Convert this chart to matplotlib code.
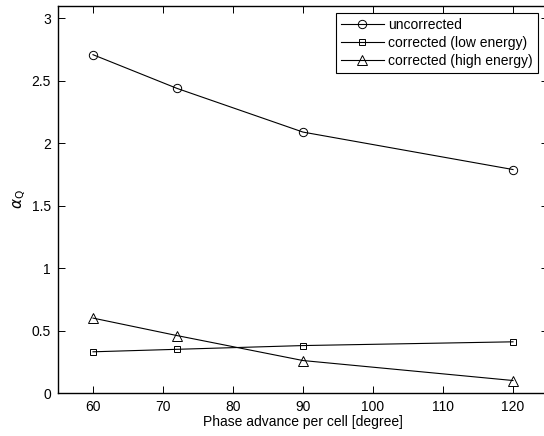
import matplotlib
matplotlib.use("Agg")
import matplotlib.pyplot as plt

phase = [60, 72, 90, 120]
uncorrected = [2.71, 2.44, 2.09, 1.79]
low_energy = [0.33, 0.35, 0.38, 0.41]
high_energy = [0.60, 0.46, 0.26, 0.10]
labels = ["uncorrected", "corrected (low energy)", "corrected (high energy)"]
xticks = [60, 70, 80, 90, 100, 110, 120]
yticks = [0, 0.5, 1, 1.5, 2, 2.5, 3]

plt.rcParams['font.family'] = ['Liberation Sans', 'DejaVu Sans']
plt.rcParams['font.size'] = 10

fig = plt.figure(figsize=(5.44, 4.36), dpi=100)
left, right = 58/544, 548/544
bottom, top = (436-393)/436, (436-6)/436
ax = fig.add_axes([left, bottom, right-left, top-bottom])

kw = dict(color='black', lw=0.8, mfc='none', mec='black', mew=0.7)
ax.plot(phase, uncorrected, marker='o', ms=6, label=labels[0], **kw)
ax.plot(phase, low_energy, marker='s', ms=5, label=labels[1], **kw)
ax.plot(phase, high_energy, marker='^', ms=6.5, label=labels[2], **kw)

ax.set_xlim(55, 125)
ax.set_ylim(0, 3.1)
ax.set_xticks(xticks)
ax.set_xticklabels([str(t) for t in xticks])
ax.set_yticks(yticks)
ax.set_yticklabels(['0', '0.5', '1', '1.5', '2', '2.5', '3'])
ax.tick_params(direction='in', top=True, right=True, length=5, width=0.7, labelsize=10, pad=5)
for s in ax.spines.values():
    s.set_linewidth(1.0)

ax.set_xlabel('Phase advance per cell [degree]', fontsize=10, labelpad=1)
ax.set_ylabel(r'$\alpha_{\mathrm{Q}}$', fontsize=11, labelpad=3)

leg = ax.legend(loc='upper left', bbox_to_anchor=((336-58)/490, (393-13)/387), frameon=True,
                fancybox=False, edgecolor='black', framealpha=1, fontsize=10,
                handlelength=3.1, handletextpad=0.3, borderpad=0.35, labelspacing=0.3,
                borderaxespad=0)
leg.get_frame().set_linewidth(0.8)

fig.savefig('out.png', dpi=100)
